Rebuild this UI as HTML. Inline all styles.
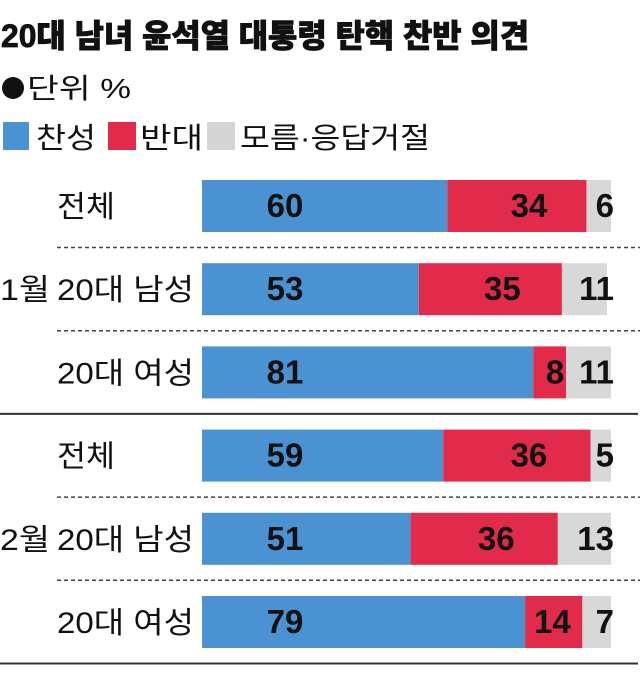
<!DOCTYPE html>
<html><head><meta charset="utf-8">
<style>
html,body{margin:0;padding:0;background:#fff;}
svg{display:block;font-family:"Liberation Sans","Noto Sans CJK KR",sans-serif;}
</style></head>
<body>
<svg id="chart" width="640" height="682" viewBox="0 0 640 682" xmlns="http://www.w3.org/2000/svg">
<text x="1" y="47" font-size="32" font-weight="900" stroke="#111" stroke-width="0.8" textLength="528" lengthAdjust="spacingAndGlyphs" fill="#111">20대 남녀 윤석열 대통령 탄핵 찬반 의견</text>
<circle cx="13" cy="88" r="11" fill="#111"/>
<text x="27" y="98" font-size="28" textLength="104" lengthAdjust="spacingAndGlyphs" fill="#111">단위 %</text>
<g>
<rect x="3" y="122" width="26" height="28" fill="#4b92d3"/>
<text x="36" y="148" font-size="29" textLength="60" lengthAdjust="spacingAndGlyphs" fill="#111">찬성</text>
<rect x="108" y="122" width="28" height="28" fill="#e22a4a"/>
<text x="140" y="148" font-size="29" textLength="63" lengthAdjust="spacingAndGlyphs" fill="#111">반대</text>
<rect x="207" y="122" width="28" height="28" fill="#d5d5d5"/>
<text x="240" y="148" font-size="29" textLength="190" lengthAdjust="spacingAndGlyphs" fill="#111">모름·응답거절</text>
</g>
<g id="rows"></g>
</svg>
<script>
const categories = ["전체","20대 남성","20대 여성","전체","20대 남성","20대 여성"];
const periods = ["1월","2월"];
const approve = [60,53,81,59,51,79];
const oppose  = [34,35,8,36,36,14];
const unknown = [6,11,11,5,13,7];

const NS = "http://www.w3.org/2000/svg";
const g = document.getElementById("rows");
const x0 = 202, pxPer = 4.09;
const xs = v => x0 + v * pxPer;
const rowTop = i => 180 + i * 83.2;
const barH = 52;
function mk(tag, attrs){const e=document.createElementNS(NS,tag);for(const k in attrs)e.setAttribute(k,attrs[k]);g.appendChild(e);return e;}
function txt(x,y,s,size,weight,anchor,len){
  const t=mk("text",{x:x,y:y,"font-size":size,"font-weight":weight,"text-anchor":anchor,fill:"#111"});
  if(len){t.setAttribute("textLength",len);t.setAttribute("lengthAdjust","spacingAndGlyphs");}
  t.textContent=s;return t;
}
categories.forEach((c,i)=>{
  const y=rowTop(i);
  const a=approve[i], o=oppose[i], u=unknown[i];
  const r1=mk("rect",{x:xs(0),y:y,width:xs(a)-xs(0),height:barH,fill:"#4b92d3"});
  
  
  const r2=mk("rect",{x:xs(a),y:y,width:xs(a+o)-xs(a),height:barH,fill:"#e22a4a"});
  
  
  const r3=mk("rect",{x:xs(a+o),y:y,width:xs(a+o+u)-xs(a+o),height:barH,fill:"#d8d8d8"});
  
  
  const ty=y+37;
  const l1=txt(285,ty,String(a),33,"bold","middle");
  
  
  const oc=o<10?xs(a+o)-11:Math.min((xs(a)+xs(a+o))/2+12,xs(a+o)-30);
  const l2=txt(oc,ty,String(o),33,"bold","middle");
  
  
  const l3=txt(614,ty,String(u),33,"bold","end");
  
  
  const w=c==="전체"?58:137;
  const lb=txt(57,ty,c,30,"normal","start",w);
  
  
  if(i%3===1){
    const p=txt(0,ty,periods[(i-1)/3],30,"normal","start",50);
    
    
  }
  const ly=y+barH+15.5;
  if(i%3===2){
    const ln=mk("line",{x1:0,x2:638,y1:ly,y2:ly,stroke:"#333","stroke-width":2});
    
    
  } else {
    const ln=mk("line",{x1:57,x2:640,y1:ly,y2:ly,stroke:"#444","stroke-width":1.5,"stroke-dasharray":"4 3"});
    
    
  }
});
</script>
</body></html>
